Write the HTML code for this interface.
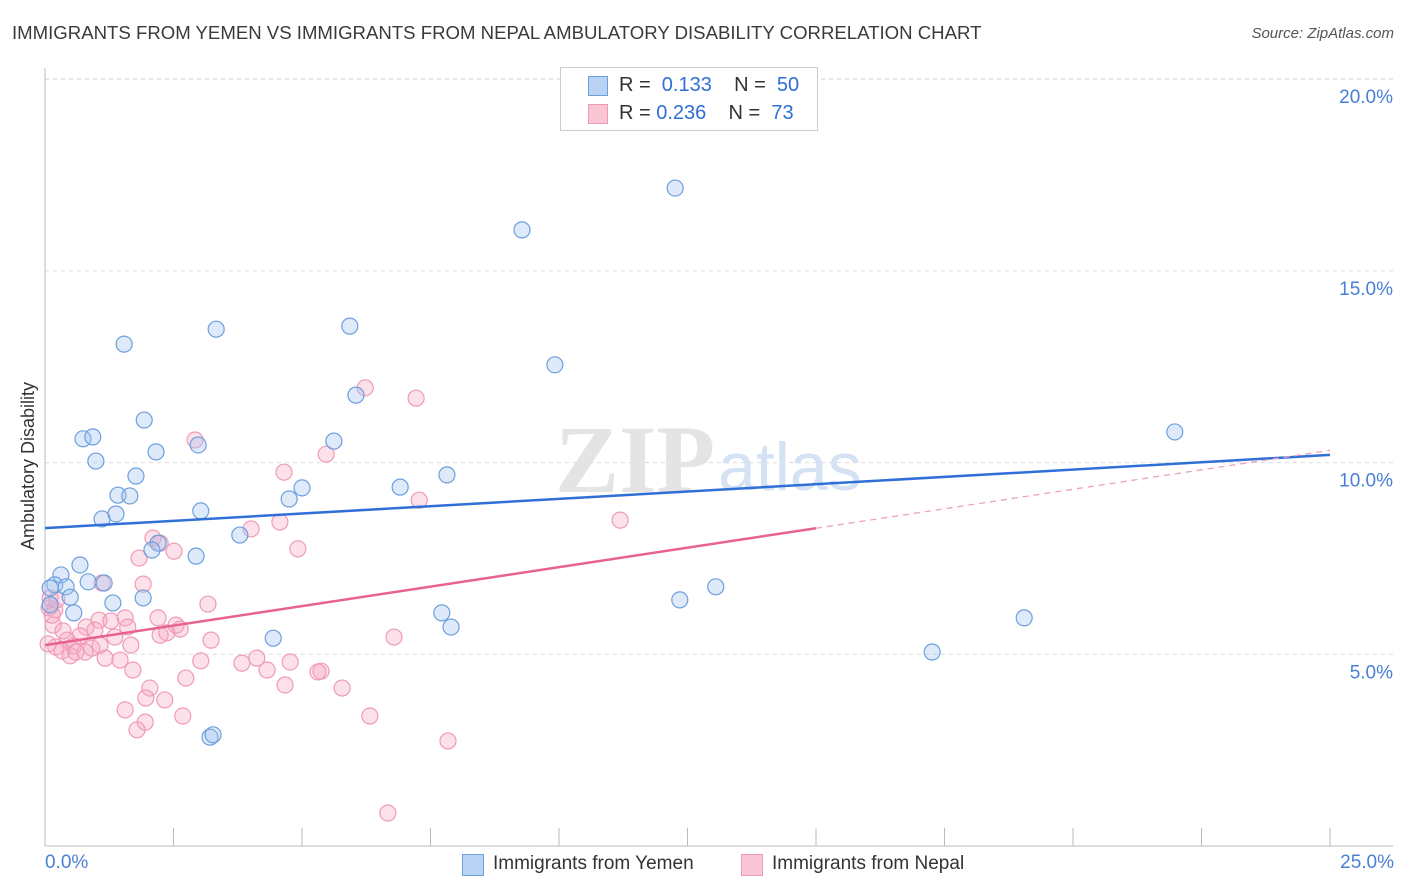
<!DOCTYPE html>
<html><head><meta charset="utf-8"><style>
body{margin:0;background:#fff;font-family:"Liberation Sans",sans-serif}
#wrap{position:relative;width:1406px;height:892px;overflow:hidden}
.t{position:absolute;white-space:nowrap}
</style></head><body>
<div id="wrap">
<div class="t" style="left:12px;top:22px;font-size:18.6px;color:#3a3a3a">IMMIGRANTS FROM YEMEN VS IMMIGRANTS FROM NEPAL AMBULATORY DISABILITY CORRELATION CHART</div>
<div class="t" style="right:12px;top:25px;font-size:15px;color:#555;font-style:italic">Source: ZipAtlas.com</div>
<svg id="svg" width="1406" height="892" style="position:absolute;left:0;top:0"></svg>
</div>
<script>
const yemenX=[12.26,9.28,1.54,3.33,5.93,9.92,6.05,1.93,0.74,0.93,2.16,2.98,5.62,0.99,21.98,1.77,7.82,6.91,5.00,1.42,1.65,4.75,3.03,1.38,1.11,3.79,2.20,2.08,2.94,0.68,0.31,0.19,0.41,0.84,1.15,0.10,0.49,1.91,1.32,0.56,0.10,7.72,7.90,12.35,13.05,19.05,4.44,17.26,3.21,3.27];
const yemenY=[17.16,16.07,13.09,13.48,13.56,12.55,11.76,11.11,10.62,10.67,10.28,10.46,10.56,10.04,10.80,9.65,9.68,9.36,9.34,9.15,9.13,9.05,8.74,8.66,8.53,8.11,7.90,7.72,7.56,7.33,7.07,6.81,6.76,6.89,6.86,6.73,6.49,6.47,6.34,6.08,6.29,6.08,5.71,6.42,6.76,5.95,5.42,5.06,2.84,2.90];
const nepalX=[6.23,7.22,2.92,5.47,4.65,7.28,11.19,4.57,4.01,2.10,2.24,2.51,1.83,4.92,1.91,1.11,3.17,0.08,0.19,2.20,1.56,1.05,0.80,2.55,2.63,0.16,1.28,1.36,0.68,0.43,0.56,0.91,1.67,2.24,2.37,3.23,6.79,0.21,0.33,0.49,0.06,0.78,1.17,1.46,3.03,3.83,4.12,4.32,4.77,1.71,5.37,5.31,2.74,2.04,4.67,5.78,1.96,2.33,1.56,1.95,2.68,6.32,1.79,7.84,6.67,0.10,0.14,0.23,0.97,0.35,1.07,1.61,0.60];
const nepalY=[11.95,11.68,10.59,10.22,9.75,9.02,8.50,8.45,8.27,8.03,7.90,7.69,7.51,7.75,6.83,6.86,6.31,6.21,6.16,5.95,5.95,5.89,5.71,5.76,5.66,5.76,5.87,5.45,5.48,5.37,5.22,5.16,5.24,5.50,5.56,5.37,5.45,5.19,5.09,4.96,5.27,5.06,4.90,4.85,4.83,4.77,4.90,4.59,4.80,4.59,4.56,4.54,4.38,4.12,4.20,4.12,3.86,3.81,3.55,3.23,3.39,3.39,3.03,2.74,0.86,6.47,6.02,6.42,5.63,5.61,5.24,5.71,5.06];
const yemenTrend=[8.29,10.20];
const nepalTrend=[5.24,10.32];
const nepalSolidEnd=15;
const yTicks=[5,10,15,20];
const yTickLabels=["5.0%","10.0%","15.0%","20.0%"];
const xTicks=[0,2.5,5,7.5,10,12.5,15,17.5,20,22.5,25];
const X0=45,X1=1330,YB=846,YPX=38.34;
function sx(v){return X0+v/25*(X1-X0);}
function sy(v){return YB-v*YPX;}
const svg=document.getElementById('svg');
const NS='http://www.w3.org/2000/svg';
function el(tag,attrs,parent){const e=document.createElementNS(NS,tag);for(const k in attrs)e.setAttribute(k,attrs[k]);(parent||svg).appendChild(e);return e;}
yTicks.forEach((v,i)=>{
 const g=el('line',{x1:X0,x2:1393,y1:sy(v),y2:sy(v),stroke:'#dcdcdc','stroke-dasharray':'4,4'});
 
 
 const t=el('text',{x:1393,y:sy(v)+24,'text-anchor':'end','font-size':19,fill:'#4a7fd6','font-family':'Liberation Sans'});
 t.textContent=yTickLabels[i];
 
 
});
const topGrid=el('line',{x1:X0,x2:1393,y1:79,y2:79,stroke:'#dcdcdc','stroke-dasharray':'4,4'});


const ya=el('line',{x1:X0,x2:X0,y1:68,y2:YB,stroke:'#bbb'});


const xa=el('line',{x1:X0,x2:1393,y1:YB,y2:YB,stroke:'#bbb'});


xTicks.forEach(v=>{
 const t=el('line',{x1:sx(v),x2:sx(v),y1:YB,y2:YB-18,stroke:'#bbb'});
 
 
});
const wm=el('text',{x:555,y:492,'font-size':96,fill:'#e4e4e4','font-family':'Liberation Serif','font-weight':'bold'});
wm.textContent='ZIP';


const wm2=el('text',{x:718,y:490,'font-size':68,fill:'#d4e2f4','font-family':'Liberation Sans'});
wm2.textContent='atlas';


function pts(xs,ys,fill,stroke,name){
 xs.forEach((x,i)=>{
  const c=el('circle',{cx:sx(x),cy:sy(ys[i]),r:8,fill:fill,stroke:stroke,'stroke-width':1.2});
  
  
 });
}
pts(nepalX,nepalY,'rgba(245,170,195,0.35)','#f09ab6','point-nepal');
pts(yemenX,yemenY,'rgba(160,195,240,0.35)','#6d9fdc','point-yemen');
const bt=el('line',{x1:sx(0),y1:sy(yemenTrend[0]),x2:sx(25),y2:sy(yemenTrend[1]),stroke:'#2f6fd6','stroke-width':2.5});


const pAt=v=>nepalTrend[0]+(nepalTrend[1]-nepalTrend[0])*v/25;
const pt=el('line',{x1:sx(0),y1:sy(pAt(0)),x2:sx(nepalSolidEnd),y2:sy(pAt(nepalSolidEnd)),stroke:'#e8628e','stroke-width':2.5});


const pd=el('line',{x1:sx(nepalSolidEnd),y1:sy(pAt(nepalSolidEnd)),x2:sx(25),y2:sy(pAt(25)),stroke:'#eea0b8','stroke-width':1.3,'stroke-dasharray':'6,5'});


</script>
<div class="t" style="left:18px;top:550px;transform:rotate(-90deg);transform-origin:0 0;font-size:18px;color:#333">Ambulatory Disability</div>
<div class="t" style="left:45px;top:852px;font-size:19px;color:#4a7fd6">0.0%</div>
<div class="t" style="right:12px;top:852px;font-size:19px;color:#4a7fd6">25.0%</div>
<div style="position:absolute;left:560px;top:67px;width:256px;height:62px;border:1px solid #ccc;background:#fff;font-size:20px;color:#333">
 <div style="position:absolute;left:27px;top:8px;width:18px;height:18px;background:#b9d3f4;border:1px solid #6d9fdc"></div>
 <div class="t" style="left:58px;top:6px">R = <span style="color:#2f6fd6">&nbsp;0.133</span>&nbsp;&nbsp;&nbsp; N = <span style="color:#2f6fd6">&nbsp;50</span></div>
 <div style="position:absolute;left:27px;top:36px;width:18px;height:18px;background:#f9c6d6;border:1px solid #f09ab6"></div>
 <div class="t" style="left:58px;top:34px">R = <span style="color:#2f6fd6">0.236</span>&nbsp;&nbsp;&nbsp; N = <span style="color:#2f6fd6">&nbsp;73</span></div>
</div>
<div style="position:absolute;left:462px;top:854px;width:20px;height:20px;background:#b9d3f4;border:1px solid #6d9fdc"></div>
<div class="t" style="left:493px;top:853px;font-size:19px;color:#333">Immigrants from Yemen</div>
<div style="position:absolute;left:741px;top:854px;width:20px;height:20px;background:#f9c6d6;border:1px solid #f09ab6"></div>
<div class="t" style="left:772px;top:853px;font-size:19px;color:#333">Immigrants from Nepal</div>
</body></html>
